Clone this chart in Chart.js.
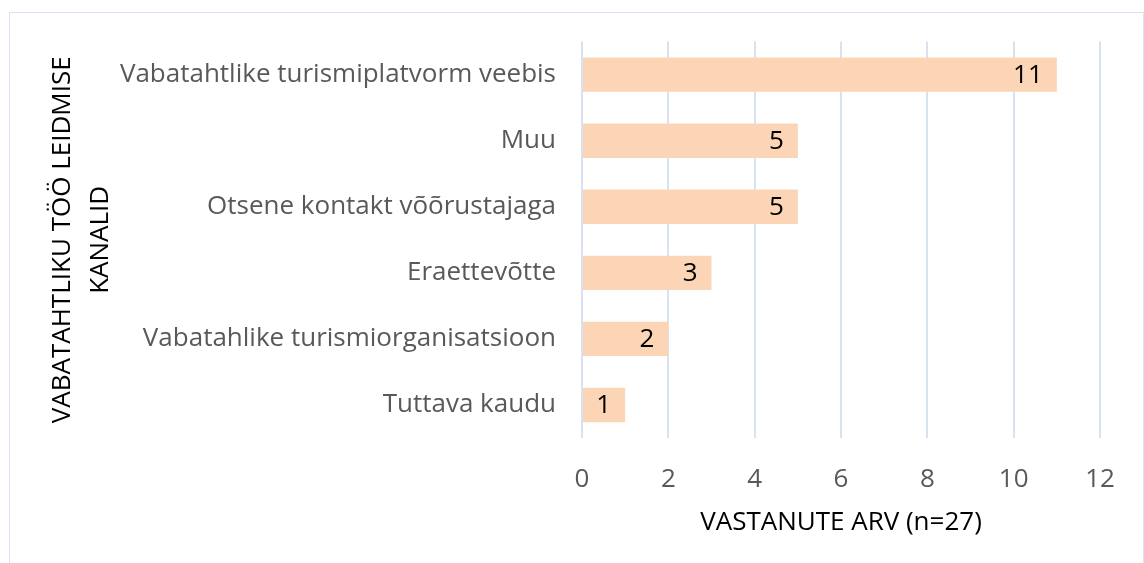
<!DOCTYPE html>
<html>
<head>
<meta charset="utf-8">
<script src="https://cdn.jsdelivr.net/npm/chart.js@4"></script>
<style>
  html, body { margin: 0; padding: 0; background: #fff; }
  #wrap { position: relative; width: 1144px; height: 563px; overflow: hidden; }
  #frame { position: absolute; left: 9px; top: 12px; width: 1133px; height: 600px; border: 1px solid #d9e2f3; }
  canvas { position: absolute; left: 0; top: 0; }
</style>
</head>
<body>
<div id="wrap">
  <div id="frame"></div>
  <canvas id="myChart" width="1144" height="563"></canvas>
</div>
<script>
const kanalid = [
    'Vabatahtlike turismiplatvorm veebis',
    'Muu',
    'Otsene kontakt võõrustajaga',
    'Eraettevõtte',
    'Vabatahlike turismiorganisatsioon',
    'Tuttava kaudu'
];
const vastanuid = [11, 5, 5, 3, 2, 1];
const xTiitel = 'VASTANUTE ARV (n=27)';
const yTiitel = ['VABATAHTLIKU TÖÖ LEIDMISE', 'KANALID'];

const fondiNimi = '"Open Sans", "Noto Sans", sans-serif';

// väärtused tulba sisse paremasse otsa
const sildid = {
    id: 'sildid',
    afterDatasetsDraw(chart) {
        const c = chart.ctx;
        const meta = chart.getDatasetMeta(0);
        c.save();
        c.font = '26px ' + fondiNimi;
        c.fillStyle = '#000';
        c.textAlign = 'right';
        c.textBaseline = 'middle';
        meta.data.forEach((bar, i) => {
            c.fillText(String(vastanuid[i]), bar.x - 14, bar.y + 1);
        });
        c.restore();
    }
};

const ctx = document.getElementById('myChart');

const myChart = new Chart(ctx, {
    type: 'bar',
    data: {
        labels: kanalid,
        datasets: [{
            data: vastanuid,
            backgroundColor: '#fbd5b5',
            borderWidth: 0,
            barPercentage: 0.52,
            categoryPercentage: 1
        }]
    },
    options: {
        indexAxis: 'y',
        responsive: false,
        animation: false,
        layout: {
            padding: { left: 44, right: 44, top: 41, bottom: 25 }
        },
        scales: {
            x: {
                min: 0,
                max: 12,
                afterFit(scale) { scale.height = 100; },
                ticks: {
                    stepSize: 2,
                    color: '#595959',
                    font: { family: fondiNimi, size: 26 },
                    padding: 26
                },
                grid: {
                    color: '#d9e2f3',
                    lineWidth: 2,
                    drawTicks: false
                },
                border: { display: false },
                title: {
                    display: true,
                    text: xTiitel,
                    color: '#000',
                    font: { family: fondiNimi, size: 26 },
                    padding: { top: 0, bottom: 0 }
                }
            },
            y: {
                afterFit(scale) { scale.width = 538; },
                ticks: {
                    color: '#595959',
                    font: { family: fondiNimi, size: 26 },
                    padding: 26
                },
                grid: { display: false, drawTicks: false },
                border: { display: false },
                title: {
                    display: true,
                    text: yTiitel,
                    color: '#000',
                    font: { family: fondiNimi, size: 26, lineHeight: 1.46 },
                    padding: 0
                }
            }
        },
        plugins: {
            legend: { display: false },
            tooltip: { enabled: false }
        }
    },
    plugins: [sildid]
});
</script>
</body>
</html>
